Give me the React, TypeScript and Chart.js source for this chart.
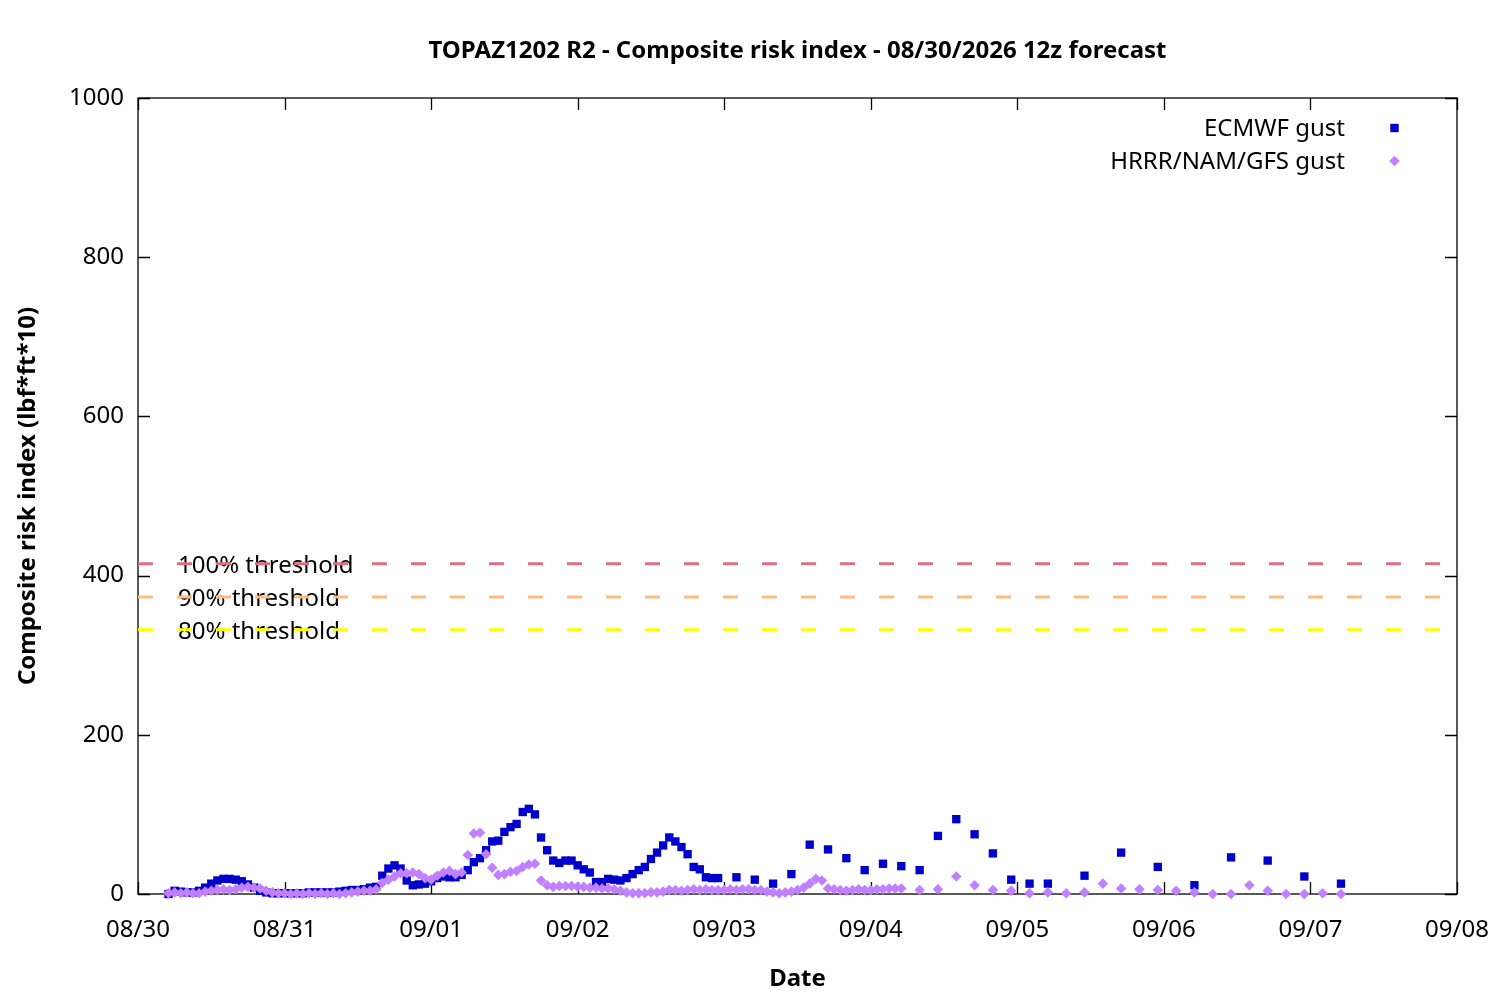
import { useEffect, useRef } from "react";
import { Chart, registerables } from "chart.js";

Chart.register(...registerables);

// x axis is in hours since 08/30 00h (local)
const dateLabels = ["08/30", "08/31", "09/01", "09/02", "09/03", "09/04", "09/05", "09/06", "09/07", "09/08"];

// ECMWF gust: hourly, then 3-hourly, then 6-hourly
const ecmwfHourlyStart = 5;
const ecmwfHourly = [
  0, 4, 3, 2, 2, 4, 8, 13, 17, 19,
  19, 18, 16, 12, 8, 4, 2, 1, 1, 1,
  1, 1, 1, 2, 2, 2, 2, 2, 3, 4,
  5, 5, 6, 8, 9, 23, 32, 36, 32, 17,
  11, 12, 13, 16, 20, 22, 21, 21, 24, 30,
  40, 45, 55, 66, 67, 78, 84, 88, 103, 107,
  100, 71, 55, 42, 39, 42, 42, 36, 31, 27,
  15, 15, 19, 18, 17, 20, 25, 30, 34, 44,
  52, 61, 71, 66, 59, 50, 34, 31, 21, 20,
  20,
];
const ecmwf3hStart = 98;
const ecmwf3h = [21, 18, 13, 25, 62, 56, 45, 30, 38, 35, 30, 73, 94, 75, 51, 18, 13, 13];
const ecmwf6hStart = 155;
const ecmwf6h = [23, 52, 34, 11, 46, 42, 22, 13];

// HRRR/NAM/GFS gust: hourly, then 3-hourly
const hrrrHourlyStart = 5;
const hrrrHourly = [
  1, 2, 1, 2, 1, 1, 3, 4, 5, 6,
  5, 6, 8, 9, 8, 7, 4, 2, 1, 1,
  0, 1, 0, 1, 0, 1, 0, 1, 0, 1,
  2, 3, 4, 4, 6, 14, 18, 22, 26, 26,
  27, 25, 20, 18, 23, 27, 29, 25, 27, 49,
  76, 77, 50, 33, 24, 25, 28, 29, 34, 37,
  38, 17, 11, 9, 10, 10, 10, 9, 9, 8,
  8, 7, 7, 6, 4, 2, 1, 1, 1, 2,
  2, 3, 5, 5, 4, 5, 6, 5, 6, 5,
  5, 5, 6, 5, 6, 6, 5, 5, 3, 2,
  1, 2, 3, 5, 8, 13, 19, 17, 7, 6,
  5, 4, 5, 6, 5, 5, 6, 6, 7, 7,
  7,
];
const hrrr3hStart = 128;
const hrrr3h = [5, 6, 22, 11, 5, 4, 1, 2, 1, 2, 13, 7, 6, 5, 4, 2, 0, 0, 11, 4, 0, 0, 1, 0];

const thresholdValues = [415, 373, 332];
const thresholdLabels = ["100% threshold", "90% threshold", "80% threshold"];
const thresholdColors = ["#dd7080", "#ffbb80", "#ffff00"];

const ECMWF_COLOR = "#0000cc";
const HRRR_COLOR = "#c080ff";
const FONT = "'Noto Sans', sans-serif";
const TITLE = "TOPAZ1202 R2 - Composite risk index - 08/30/2026 12z forecast";

const toPoints = (start: number, step: number, values: number[]) =>
  values.map((v, i) => ({ x: start + i * step, y: v }));

const decor = {
  id: "decor",
  beforeDatasetsDraw(chart: any) {
    const { ctx, chartArea: a, scales } = chart;
    ctx.save();
    ctx.fillStyle = "#000";
    ctx.font = `24px ${FONT}`;
    ctx.textAlign = "left";
    ctx.textBaseline = "middle";
    thresholdLabels.forEach((t, i) => {
      ctx.fillText(t, 178, scales.y.getPixelForValue(thresholdValues[i]) + 2);
    });

    // frame and inward ticks
    ctx.strokeStyle = "#000";
    ctx.lineWidth = 1.3;
    ctx.strokeRect(a.left, a.top, a.right - a.left, a.bottom - a.top);
    ctx.beginPath();
    scales.x.ticks.forEach((t: any) => {
      const px = Math.round(scales.x.getPixelForValue(t.value)) + 0.5;
      ctx.moveTo(px, a.bottom);
      ctx.lineTo(px, a.bottom - 12);
      ctx.moveTo(px, a.top);
      ctx.lineTo(px, a.top + 12);
    });
    scales.y.ticks.forEach((t: any) => {
      const py = Math.round(scales.y.getPixelForValue(t.value)) + 0.5;
      ctx.moveTo(a.left, py);
      ctx.lineTo(a.left + 12, py);
      ctx.moveTo(a.right, py);
      ctx.lineTo(a.right - 12, py);
    });
    ctx.stroke();
    ctx.restore();
  },
  afterDraw(chart: any) {
    const { ctx, chartArea: a } = chart;
    const cx = (a.left + a.right) / 2;
    ctx.save();
    ctx.fillStyle = "#000";
    ctx.textBaseline = "middle";
    ctx.textAlign = "center";
    ctx.font = `bold 24px ${FONT}`;
    ctx.fillText(TITLE, cx, 51);
    ctx.fillText("Date", cx, 979);
    ctx.save();
    ctx.translate(28, (a.top + a.bottom) / 2);
    ctx.rotate(-Math.PI / 2);
    ctx.fillText("Composite risk index (lbf*ft*10)", 0, 0);
    ctx.restore();

    // key
    ctx.font = `24px ${FONT}`;
    ctx.textAlign = "right";
    ctx.fillText("ECMWF gust", 1345, 129);
    ctx.fillText("HRRR/NAM/GFS gust", 1345, 162);
    ctx.fillStyle = ECMWF_COLOR;
    ctx.fillRect(1394.5 - 4.2, 128 - 4.2, 8.4, 8.4);
    ctx.fillStyle = HRRR_COLOR;
    ctx.beginPath();
    ctx.moveTo(1394.5, 161 - 5.3);
    ctx.lineTo(1394.5 + 5.3, 161);
    ctx.lineTo(1394.5, 161 + 5.3);
    ctx.lineTo(1394.5 - 5.3, 161);
    ctx.closePath();
    ctx.fill();
    ctx.restore();
  },
};

export default function App() {
  const canvasRef = useRef<HTMLCanvasElement>(null);

  useEffect(() => {
    document.body.style.margin = "0";
    if (!canvasRef.current) return;
    const ctx = canvasRef.current.getContext("2d");
    if (!ctx) return;

    const thresholdSets = thresholdValues.map((v, i) => ({
      label: thresholdLabels[i],
      data: [
        { x: 0, y: v },
        { x: 216, y: v },
      ],
      showLine: true,
      borderColor: thresholdColors[i],
      borderWidth: 3,
      borderDash: [15, 24],
      pointRadius: 0,
      clip: false as const,
    }));

    const chart = new Chart(ctx, {
      type: "scatter",
      data: {
        datasets: [
          {
            label: "HRRR/NAM/GFS gust",
            data: [...toPoints(hrrrHourlyStart, 1, hrrrHourly), ...toPoints(hrrr3hStart, 3, hrrr3h)],
            pointStyle: "rectRot",
            pointRadius: 5.3,
            pointBorderWidth: 0,
            backgroundColor: HRRR_COLOR,
            clip: false as const,
          },
          {
            label: "ECMWF gust",
            data: [
              ...toPoints(ecmwfHourlyStart, 1, ecmwfHourly),
              ...toPoints(ecmwf3hStart, 3, ecmwf3h),
              ...toPoints(ecmwf6hStart, 6, ecmwf6h),
            ],
            pointStyle: "rect",
            pointRadius: 5.9,
            pointBorderWidth: 0,
            backgroundColor: ECMWF_COLOR,
            clip: false as const,
          },
          ...thresholdSets,
        ],
      },
      options: {
        responsive: true,
        maintainAspectRatio: false,
        animation: false,
        layout: { padding: { left: 0, right: 43, top: 98, bottom: 0 } },
        plugins: { legend: { display: false }, tooltip: { enabled: false } },
        scales: {
          x: {
            type: "linear",
            min: 0,
            max: 216,
            grid: { display: false, drawTicks: false },
            border: { display: false },
            afterFit: (s: any) => {
              s.height = 106;
              s.paddingLeft = 0;
              s.paddingRight = 0;
            },
            ticks: {
              stepSize: 24,
              padding: 22,
              color: "#000",
              font: { family: FONT, size: 24 },
              callback: (v: any) => dateLabels[Math.round(Number(v) / 24)] ?? "",
            },
          },
          y: {
            min: 0,
            max: 1000,
            grid: { display: false, drawTicks: false },
            border: { display: false },
            afterFit: (s: any) => {
              s.width = 138;
              s.paddingTop = 0;
              s.paddingBottom = 0;
            },
            ticks: {
              stepSize: 200,
              padding: 14,
              color: "#000",
              font: { family: FONT, size: 24 },
              callback: (v: any) => String(v),
            },
          },
        },
      },
      plugins: [decor],
    });

    return () => chart.destroy();
  }, []);

  return (
    <div style={{ width: 1500, height: 1000, position: "relative" }}>
      <canvas ref={canvasRef} />
    </div>
  );
}
